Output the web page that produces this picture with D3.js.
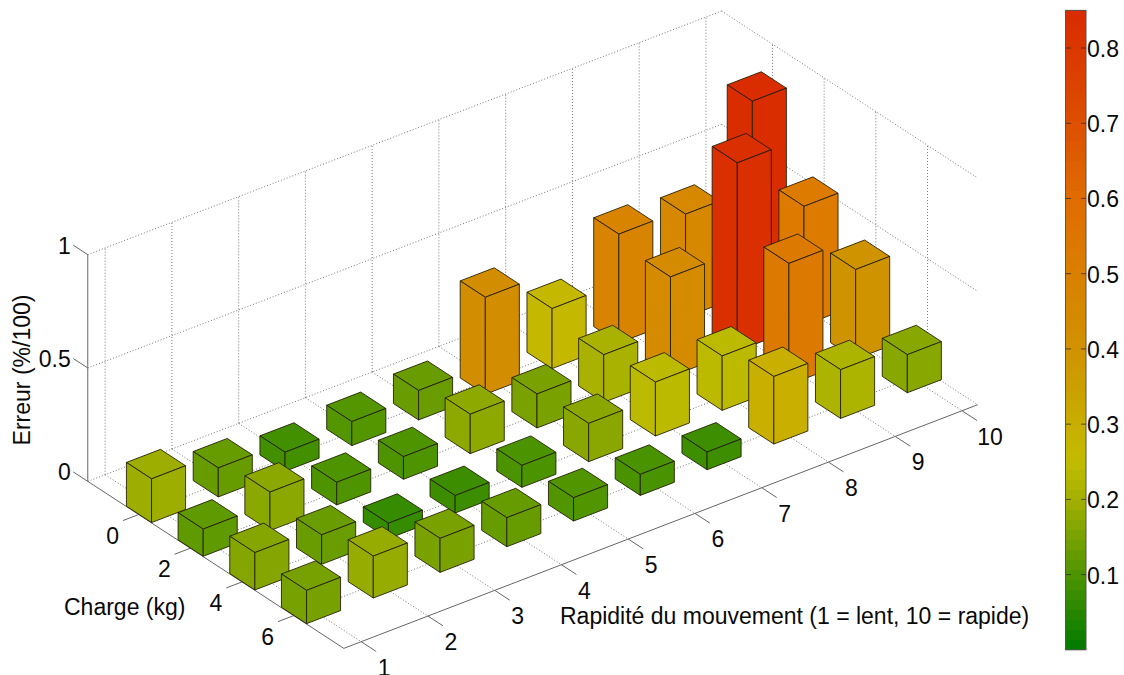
<!DOCTYPE html>
<html><head><meta charset="utf-8">
<script src="https://cdn.jsdelivr.net/npm/d3@7"></script>
<style>html,body{margin:0;padding:0;background:#fff;overflow:hidden}text{font-family:"Liberation Sans",Arial,sans-serif;fill:#0a0a0a}</style>
</head><body><svg id="c" width="1124" height="675"></svg>
<script>
const chargeLevels=[0,2,4,6];
const speedLevels=[1,2,3,4,5,6,7,8,9,10];
const errCharge0=[0.193,0.128,0.084,0.106,0.13,0.428,0.265,0.48,0.455,0.84];
const errCharge2=[0.12,0.17,0.10,0.10,0.174,0.15,0.21,0.44,0.83,0.525];
const errCharge4=[0.165,0.13,0.068,0.077,0.097,0.169,0.238,0.24,0.535,0.395];
const errCharge6=[0.147,0.185,0.15,0.128,0.103,0.093,0.078,0.298,0.215,0.168];
const errorTable=[errCharge0,errCharge2,errCharge4,errCharge6];
const errorTicks=[0,0.5,1];
const cbTicks=[0.1,0.2,0.3,0.4,0.5,0.6,0.7,0.8];
const colorStops=[0,0.1,0.2,0.25,0.3,0.4,0.5,0.6,0.7,0.85];
const colorValues=["#007a00","#4e9400","#a3b000","#c2bc00","#c8ae00","#d09200","#da8000","#e06c00","#dd5000","#d92a00"];

const svg=d3.select("#c");
const color=d3.scaleLinear().domain(colorStops).range(colorValues);
const fs=23;
const cHalf=0.486, sHalf=0.51;
const cMin=-1.969,cMax=7.943,sMin=0.74,sMax=10.235;
const cx=d3.scaleLinear().domain([0,6]).range([156,311]);
const cy=d3.scaleLinear().domain([0,6]).range([507.85,608.95]);
const sx=d3.scaleLinear().domain([1,10]).range([0,600.8]);
const sy=d3.scaleLinear().domain([1,10]).range([0,-230.94]);
const zy=d3.scaleLinear().domain([0,1]).range([0,-226.7]);
const P=(c,s,z=0)=>[cx(c)+sx(s),cy(c)+sy(s)+zy(z)];
const line=(a,b,cls)=>{const l=svg.append("line").attr("x1",a[0]).attr("y1",a[1]).attr("x2",b[0]).attr("y2",b[1]);
 if(cls==="grid")l.attr("stroke","#777").attr("stroke-width",1).attr("stroke-dasharray","1 2");
 else l.attr("stroke","#666").attr("stroke-width",1);return l;};
speedLevels.forEach(s=>{line(P(cMin,s),P(cMax,s),"grid");line(P(cMin,s,0),P(cMin,s,1),"grid");});
chargeLevels.forEach(c=>{line(P(c,sMin),P(c,sMax),"grid");line(P(c,sMax,0),P(c,sMax,1),"grid");});
errorTicks.forEach(z=>{line(P(cMin,sMin,z),P(cMin,sMax,z),"grid");line(P(cMin,sMax,z),P(cMax,sMax,z),"grid");});
line(P(cMin,sMin,0),P(cMin,sMin,1));
line(P(cMin,sMin),P(cMax,sMin));
line(P(cMax,sMin),P(cMax,sMax));
errorTicks.forEach(z=>{line(P(cMin,sMin,z),P(cMin-0.56,sMin,z));
 const p=P(cMin,sMin,z);
 svg.append("text").attr("x",p[0]-17).attr("y",p[1]-9).attr("text-anchor","end").attr("dominant-baseline","central").attr("font-size",fs).text(z);});
chargeLevels.forEach(c=>{const a=P(c,sMin);line(a,P(c,sMin-0.235));
 svg.append("text").attr("x",a[0]-26).attr("y",a[1]+21).attr("text-anchor","middle").attr("dominant-baseline","central").attr("font-size",fs).text(c);});
speedLevels.forEach(s=>{const a=P(cMax,s);line(a,P(cMax+0.58,s));
 svg.append("text").attr("x",a[0]+(s===10?28:23)).attr("y",a[1]+26).attr("text-anchor","middle").attr("dominant-baseline","central").attr("font-size",fs).text(s);});
const bars=svg.append("g");
chargeLevels.forEach((c,i)=>{
 for(let j=speedLevels.length-1;j>=0;j--){
  const s=speedLevels[j],v=errorTable[i][j];
  const c0=c-cHalf,c1=c+cHalf,s0=s-sHalf/2,s1=s+sHalf/2;
  const faces=[
   [P(c0,s0,v),P(c1,s0,v),P(c1,s1,v),P(c0,s1,v)],
   [P(c0,s0,0),P(c1,s0,0),P(c1,s0,v),P(c0,s0,v)],
   [P(c1,s0,0),P(c1,s1,0),P(c1,s1,v),P(c1,s0,v)]];
  faces.forEach(f=>bars.append("polygon").attr("points",f.map(p=>p.join(",")).join(" "))
    .attr("fill",color(v)).attr("stroke","#1e1a00").attr("stroke-opacity",0.85).attr("stroke-width",1).attr("stroke-linejoin","round"));
 }
});
svg.append("text").attr("x",64).attr("y",607).attr("dominant-baseline","central").attr("font-size",fs).text("Charge (kg)");
svg.append("text").attr("x",560).attr("y",616).attr("dominant-baseline","central").attr("font-size",fs).text("Rapidité du mouvement (1 = lent, 10 = rapide)");
svg.append("text").attr("transform","translate(22,370) rotate(-90)").attr("text-anchor","middle").attr("dominant-baseline","central").attr("font-size",fs).text("Erreur (%/100)");
const cbY=d3.scaleLinear().domain([0.1,0.8]).range([574.6,48]);
const cbMin=0,cbMax=0.85,bands=64,bw=(cbMax-cbMin)/bands;
const cb=svg.append("g");
d3.range(bands).forEach(k=>{const a=cbMin+k*bw;
 cb.append("rect").attr("x",1066).attr("width",20).attr("y",cbY(a+bw)).attr("height",cbY(a)-cbY(a+bw)+0.5).attr("fill",color(a+bw/2)).attr("shape-rendering","crispEdges");});
cb.append("rect").attr("x",1065.5).attr("y",cbY(cbMax)).attr("width",20.5).attr("height",cbY(cbMin)-cbY(cbMax)).attr("fill","none").attr("stroke","#555");
cbTicks.forEach(t=>{const y=cbY(t);
 cb.append("line").attr("x1",1066).attr("x2",1071).attr("y1",y).attr("y2",y).attr("stroke","#222").attr("stroke-opacity",.7);
 cb.append("line").attr("x1",1081).attr("x2",1086).attr("y1",y).attr("y2",y).attr("stroke","#222").attr("stroke-opacity",.7);
 cb.append("text").attr("x",1087).attr("y",y+1).attr("dominant-baseline","central").attr("font-size",fs).text(d3.format(".1f")(t));});
</script></body></html>
